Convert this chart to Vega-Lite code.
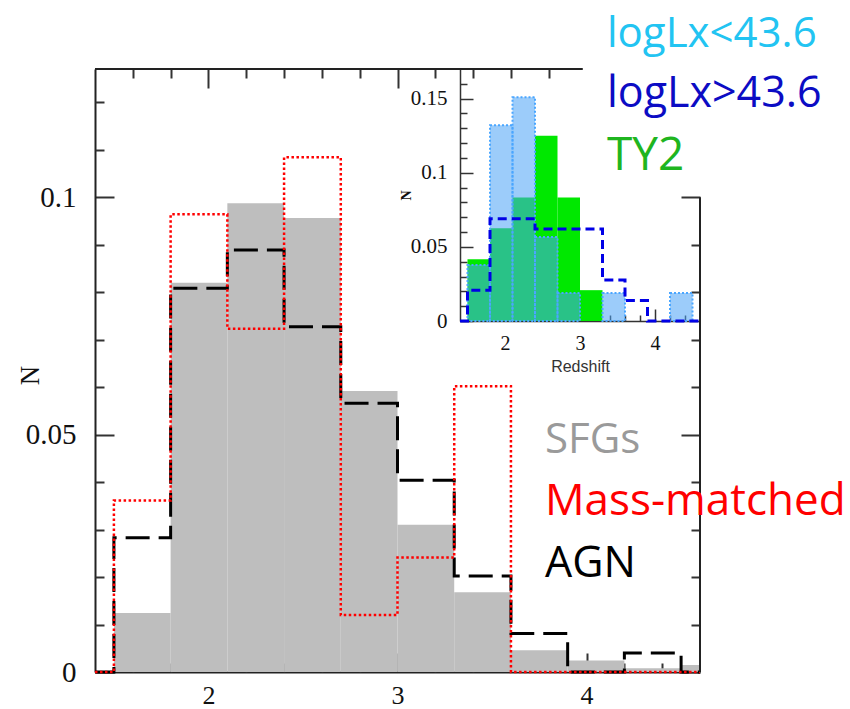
{
  "$schema": "https://vega.github.io/schema/vega-lite/v6.json",
  "width": 605,
  "height": 603,
  "autosize": {"type": "none"},
  "padding": {"left": 95, "top": 69, "right": 150, "bottom": 37},
  "background": "white",
  "config": {"view": {"stroke": null}, "axis": {"grid": false, "labelOverlap": false, "labelFlush": false}},
  "datasets": {
    "sfg": [
      {"z0": 1.5, "z1": 1.8, "n": 0.0124},
      {"z0": 1.8, "z1": 2.1, "n": 0.082},
      {"z0": 2.1, "z1": 2.4, "n": 0.0987},
      {"z0": 2.4, "z1": 2.7, "n": 0.0956},
      {"z0": 2.7, "z1": 3.0, "n": 0.0592},
      {"z0": 3.0, "z1": 3.3, "n": 0.031},
      {"z0": 3.3, "z1": 3.6, "n": 0.0168},
      {"z0": 3.6, "z1": 3.9, "n": 0.0046},
      {"z0": 3.9, "z1": 4.2, "n": 0.0024},
      {"z0": 4.2, "z1": 4.5, "n": 0.0008},
      {"z0": 4.5, "z1": 4.8, "n": 0.0015}
    ],
    "agn": [
      {"z": 1.4, "n": 0},
      {"z": 1.5, "n": 0.0283},
      {"z": 1.8, "n": 0.0808},
      {"z": 2.1, "n": 0.0889},
      {"z": 2.4, "n": 0.0727},
      {"z": 2.7, "n": 0.0566},
      {"z": 3.0, "n": 0.0404},
      {"z": 3.3, "n": 0.0202},
      {"z": 3.6, "n": 0.0081},
      {"z": 3.9, "n": 0},
      {"z": 4.2, "n": 0.004},
      {"z": 4.5, "n": 0},
      {"z": 4.6, "n": 0}
    ],
    "massmatched": [
      {"z": 1.4, "n": 0},
      {"z": 1.5, "n": 0.0361},
      {"z": 1.8, "n": 0.0964},
      {"z": 2.1, "n": 0.0723},
      {"z": 2.4, "n": 0.1084},
      {"z": 2.7, "n": 0.012},
      {"z": 3.0, "n": 0.0241},
      {"z": 3.3, "n": 0.0602},
      {"z": 3.6, "n": 0},
      {"z": 4.6, "n": 0}
    ],
    "ty2": [
      {"z0": 1.5, "z1": 1.8, "n": 0.0417},
      {"z0": 1.8, "z1": 2.1, "n": 0.0625},
      {"z0": 2.1, "z1": 2.4, "n": 0.0833},
      {"z0": 2.4, "z1": 2.7, "n": 0.125},
      {"z0": 2.7, "z1": 3.0, "n": 0.0833},
      {"z0": 3.0, "z1": 3.3, "n": 0.0208}
    ],
    "lowlx": [
      {"z0": 1.5, "z1": 1.8, "n": 0.0377},
      {"z0": 1.8, "z1": 2.1, "n": 0.1321},
      {"z0": 2.1, "z1": 2.4, "n": 0.1509},
      {"z0": 2.4, "z1": 2.7, "n": 0.0566},
      {"z0": 2.7, "z1": 3.0, "n": 0.0189},
      {"z0": 3.3, "z1": 3.6, "n": 0.0189},
      {"z0": 4.2, "z1": 4.5, "n": 0.0189}
    ],
    "highlx": [
      {"z": 1.4, "n": 0},
      {"z": 1.5, "n": 0.0207},
      {"z": 1.8, "n": 0.069},
      {"z": 2.1, "n": 0.069},
      {"z": 2.4, "n": 0.0621},
      {"z": 2.7, "n": 0.0621},
      {"z": 3.0, "n": 0.0621},
      {"z": 3.3, "n": 0.0276},
      {"z": 3.6, "n": 0.0138},
      {"z": 3.9, "n": 0},
      {"z": 4.6, "n": 0}
    ]
  },
  "layer": [
    {
      "layer": [
        {
          "data": {"name": "sfg"},
          "mark": {"type": "rect", "color": "#bebebe", "clip": true},
          "encoding": {
            "x": {"field": "z0", "type": "quantitative",
              "scale": {"domain": [1.4, 4.6], "nice": false, "zero": false},
              "axis": {"orient": "bottom", "values": [2, 3, 4], "tickSize": -19, "tickWidth": 2, "tickColor": "#333",
                "domainColor": "#222", "domainWidth": 2, "labelFont": "Liberation Serif", "labelFontSize": 26,
                "labelColor": "#111", "labelPadding": 29, "title": null}},
            "x2": {"field": "z1"},
            "y": {"field": "n", "type": "quantitative",
              "scale": {"domain": [0, 0.127], "nice": false, "zero": false},
              "axis": {"orient": "left", "values": [0, 0.05, 0.1], "format": "~g", "tickSize": -19, "tickWidth": 2,
                "tickColor": "#333", "domainColor": "#222", "domainWidth": 2, "labelFont": "Liberation Serif",
                "labelFontSize": 29, "labelColor": "#111", "labelPadding": 38,
                "title": "N", "titleFont": "Liberation Serif", "titleFontSize": 27, "titleFontWeight": "normal",
                "titleColor": "#111", "titleX": -65, "titleY": 306, "titleAlign": "center", "titleBaseline": "middle"}},
            "y2": {"datum": 0}
          }
        },
        {
          "data": {"name": "agn"},
          "mark": {"type": "line", "interpolate": "step-after", "color": "#000000", "strokeWidth": 3, "strokeDash": [24, 9]},
          "encoding": {
            "x": {"field": "z", "type": "quantitative",
              "scale": {"domain": [1.4, 4.6], "nice": false, "zero": false},
              "axis": {"orient": "bottom", "values": [1.6, 1.8, 2.2, 2.4, 2.6, 2.8, 3.2, 3.4, 3.6, 3.8, 4.2, 4.4],
                "tickSize": -9, "tickWidth": 2, "tickColor": "#333", "labels": false, "domain": false, "title": null}},
            "y": {"field": "n", "type": "quantitative",
              "scale": {"domain": [0, 0.127], "nice": false, "zero": false},
              "axis": {"orient": "left", "values": [0.01, 0.02, 0.03, 0.04, 0.06, 0.07, 0.08, 0.09, 0.11, 0.12],
                "tickSize": -9, "tickWidth": 2, "tickColor": "#333", "labels": false, "domain": false, "title": null}}
          }
        },
        {
          "data": {"name": "massmatched"},
          "mark": {"type": "line", "interpolate": "step-after", "color": "#ff0000", "strokeWidth": 2.5, "strokeDash": [2.5, 2.5]},
          "encoding": {
            "x": {"field": "z", "type": "quantitative",
              "scale": {"domain": [1.4, 4.6], "nice": false, "zero": false},
              "axis": {"orient": "top", "values": [2, 3], "tickSize": -19, "tickWidth": 2, "tickColor": "#333",
                "labels": false, "domain": false, "title": null}},
            "y": {"field": "n", "type": "quantitative",
              "scale": {"domain": [0, 0.127], "nice": false, "zero": false},
              "axis": {"orient": "right", "values": [0, 0.05, 0.1], "tickSize": -19, "tickWidth": 2, "tickColor": "#333",
                "labels": false, "domain": false, "title": null}}
          }
        },
        {
          "data": {"values": [{}]},
          "mark": {"type": "rule", "color": "#222", "strokeWidth": 2},
          "encoding": {
            "x": {"datum": 1.4, "type": "quantitative",
              "scale": {"domain": [1.4, 4.6], "nice": false, "zero": false},
              "axis": {"orient": "top", "values": [1.6, 1.8, 2.2, 2.4, 2.6, 2.8, 3.2, 3.4, 3.6, 3.8],
                "tickSize": -9, "tickWidth": 2, "tickColor": "#333", "labels": false, "domain": false, "title": null}},
            "x2": {"datum": 3.98},
            "y": {"datum": 0.127, "type": "quantitative",
              "scale": {"domain": [0, 0.127], "nice": false, "zero": false},
              "axis": {"orient": "right", "values": [0.01, 0.02, 0.03, 0.04, 0.06, 0.07, 0.08, 0.09],
                "tickSize": -9, "tickWidth": 2, "tickColor": "#333", "labels": false, "domain": false, "title": null}}
          }
        },
        {
          "data": {"values": [{}]},
          "mark": {"type": "rule", "color": "#222", "strokeWidth": 2},
          "encoding": {
            "x": {"datum": 4.6, "type": "quantitative", "scale": {"domain": [1.4, 4.6], "nice": false, "zero": false}, "axis": null},
            "y": {"datum": 0, "type": "quantitative", "scale": {"domain": [0, 0.127], "nice": false, "zero": false}, "axis": null},
            "y2": {"datum": 0.1}
          }
        },
        {
          "data": {"values": [{}]},
          "mark": {"type": "text", "font": "Open Sans", "fontSize": 42, "align": "left", "baseline": "alphabetic", "color": "#22c4f2"},
          "encoding": {
            "x": {"datum": 4.108, "type": "quantitative", "scale": {"domain": [1.4, 4.6], "nice": false, "zero": false}, "axis": null},
            "y": {"datum": 0.1316, "type": "quantitative", "scale": {"domain": [0, 0.127], "nice": false, "zero": false}, "axis": null},
            "text": {"value": "logLx<43.6"}
          }
        },
        {
          "data": {"values": [{}]},
          "mark": {"type": "text", "font": "Open Sans", "fontSize": 43, "align": "left", "baseline": "alphabetic", "color": "#0c0cc4"},
          "encoding": {
            "x": {"datum": 4.108, "type": "quantitative", "scale": {"domain": [1.4, 4.6], "nice": false, "zero": false}, "axis": null},
            "y": {"datum": 0.119, "type": "quantitative", "scale": {"domain": [0, 0.127], "nice": false, "zero": false}, "axis": null},
            "text": {"value": "logLx>43.6"}
          }
        },
        {
          "data": {"values": [{}]},
          "mark": {"type": "text", "font": "Open Sans", "fontSize": 46, "align": "left", "baseline": "alphabetic", "color": "#1fb51f"},
          "encoding": {
            "x": {"datum": 4.108, "type": "quantitative", "scale": {"domain": [1.4, 4.6], "nice": false, "zero": false}, "axis": null},
            "y": {"datum": 0.1057, "type": "quantitative", "scale": {"domain": [0, 0.127], "nice": false, "zero": false}, "axis": null},
            "text": {"value": "TY2"}
          }
        },
        {
          "data": {"values": [{}]},
          "mark": {"type": "text", "font": "Open Sans", "fontSize": 42, "align": "left", "baseline": "alphabetic", "color": "#9a9a9a"},
          "encoding": {
            "x": {"datum": 3.78, "type": "quantitative", "scale": {"domain": [1.4, 4.6], "nice": false, "zero": false}, "axis": null},
            "y": {"datum": 0.0461, "type": "quantitative", "scale": {"domain": [0, 0.127], "nice": false, "zero": false}, "axis": null},
            "text": {"value": "SFGs"}
          }
        },
        {
          "data": {"values": [{}]},
          "mark": {"type": "text", "font": "Open Sans", "fontSize": 44, "align": "left", "baseline": "alphabetic", "color": "#ff0000"},
          "encoding": {
            "x": {"datum": 3.78, "type": "quantitative", "scale": {"domain": [1.4, 4.6], "nice": false, "zero": false}, "axis": null},
            "y": {"datum": 0.0331, "type": "quantitative", "scale": {"domain": [0, 0.127], "nice": false, "zero": false}, "axis": null},
            "text": {"value": "Mass-matched"}
          }
        },
        {
          "data": {"values": [{}]},
          "mark": {"type": "text", "font": "Open Sans", "fontSize": 43, "align": "left", "baseline": "alphabetic", "color": "#000000"},
          "encoding": {
            "x": {"datum": 3.78, "type": "quantitative", "scale": {"domain": [1.4, 4.6], "nice": false, "zero": false}, "axis": null},
            "y": {"datum": 0.02, "type": "quantitative", "scale": {"domain": [0, 0.127], "nice": false, "zero": false}, "axis": null},
            "text": {"value": "AGN"}
          }
        }
      ],
      "resolve": {"axis": {"x": "independent", "y": "independent"}}
    },
    {
      "layer": [
        {
          "data": {"name": "ty2"},
          "mark": {"type": "rect", "color": "#00e800"},
          "encoding": {
            "x": {"field": "z0", "type": "quantitative",
              "scale": {"domain": [1.4, 4.6], "range": [365, 605], "nice": false, "zero": false},
              "axis": {"orient": "bottom", "offset": -351, "values": [2, 3, 4], "tickSize": -12, "tickWidth": 1.5,
                "tickColor": "#333", "domainColor": "#333", "domainWidth": 1.5, "labelFont": "Liberation Serif",
                "labelFontSize": 20, "labelColor": "#111", "labelPadding": 24,
                "title": "Redshift", "titleFont": "Liberation Sans", "titleFontSize": 16, "titleFontWeight": "normal",
                "titleColor": "#333", "titleY": 50, "titleBaseline": "alphabetic"}},
            "x2": {"field": "z1"},
            "y": {"field": "n", "type": "quantitative",
              "scale": {"domain": [0, 0.17], "range": [252, 0], "nice": false, "zero": false},
              "axis": {"orient": "left", "offset": -365, "values": [0, 0.05, 0.1, 0.15], "format": "~g", "tickSize": -13,
                "tickWidth": 1.5, "tickColor": "#333", "domainColor": "#333", "domainWidth": 1.5,
                "labelFont": "Liberation Serif", "labelFontSize": 21, "labelColor": "#111", "labelPadding": 26,
                "title": "N", "titleFont": "Liberation Serif", "titleFontSize": 14, "titleFontWeight": "bold",
                "titleColor": "#111", "titleX": -54, "titleY": 126, "titleAlign": "center", "titleBaseline": "middle"}},
            "y2": {"datum": 0}
          }
        },
        {
          "data": {"name": "lowlx"},
          "mark": {"type": "rect", "fill": "#4ba3f5", "fillOpacity": 0.55, "stroke": "#4aa6ff", "strokeWidth": 2, "strokeDash": [2, 2]},
          "encoding": {
            "x": {"field": "z0", "type": "quantitative",
              "scale": {"domain": [1.4, 4.6], "range": [365, 605], "nice": false, "zero": false},
              "axis": {"orient": "bottom", "offset": -351,
                "values": [1.6, 1.8, 2.2, 2.4, 2.6, 2.8, 3.2, 3.4, 3.6, 3.8, 4.2, 4.4],
                "tickSize": -6, "tickWidth": 1.5, "tickColor": "#333", "labels": false, "domain": false, "title": null}},
            "x2": {"field": "z1"},
            "y": {"field": "n", "type": "quantitative",
              "scale": {"domain": [0, 0.17], "range": [252, 0], "nice": false, "zero": false},
              "axis": {"orient": "left", "offset": -365,
                "values": [0.01, 0.02, 0.03, 0.04, 0.06, 0.07, 0.08, 0.09, 0.11, 0.12, 0.13, 0.14, 0.16],
                "tickSize": -7, "tickWidth": 1.5, "tickColor": "#333", "labels": false, "domain": false, "title": null}},
            "y2": {"datum": 0}
          }
        },
        {
          "data": {"name": "highlx"},
          "mark": {"type": "line", "interpolate": "step-after", "color": "#0000e6", "strokeWidth": 3, "strokeDash": [9, 5]},
          "encoding": {
            "x": {"field": "z", "type": "quantitative",
              "scale": {"domain": [1.4, 4.6], "range": [365, 605], "nice": false, "zero": false}, "axis": null},
            "y": {"field": "n", "type": "quantitative",
              "scale": {"domain": [0, 0.17], "range": [252, 0], "nice": false, "zero": false}, "axis": null}
          }
        }
      ],
      "resolve": {"axis": {"x": "independent", "y": "independent"}}
    }
  ],
  "resolve": {"scale": {"x": "independent", "y": "independent"}, "axis": {"x": "independent", "y": "independent"}}
}
